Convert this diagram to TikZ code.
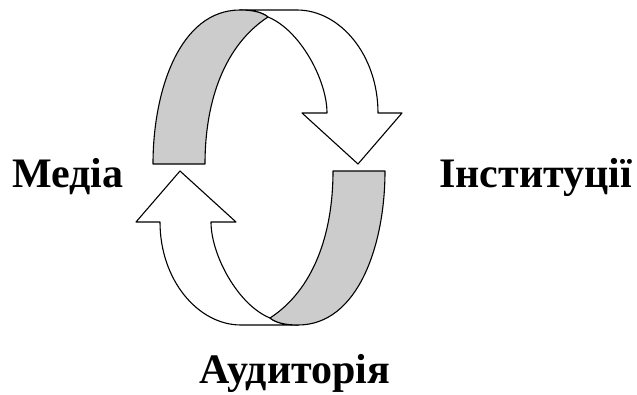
\documentclass[tikz,border=0pt]{standalone}
\usepackage{fontspec}
\setmainfont{Liberation Serif}
\definecolor{bandgray}{RGB}{204,204,204}
\tikzset{
  band/.style={draw=black, line width=1.1pt, line join=round},
  lbl/.style={font=\fontsize{42}{46}\selectfont\bfseries, anchor=base west, inner sep=0pt}
}
\begin{document}
\begin{tikzpicture}[x=1pt,y=-1pt]
\useasboundingbox (0,0) rectangle (637,394);
\foreach \ang in {0,180}{
\begin{scope}[rotate around={\ang:(269,167.5)}]
  \draw[band, fill=white] (240,10) -- (297,10)
      .. controls (340,10) and (378,55) .. (378,113)
      -- (402,113) -- (358,164) -- (302,113) -- (327,113)
      .. controls (327,80) and (300,30) .. (268,17)
      .. controls (262,12) and (252,10) .. (240,10) -- cycle;
  \draw[band, fill=bandgray] (153,164)
      .. controls (153,90) and (180,10) .. (240,10)
      .. controls (252,10) and (262,12) .. (268,17)
      .. controls (225,45) and (205,100) .. (205,164) -- cycle;
\end{scope}}
\node[lbl] (media) at (12,187) {Медіа};
\node[lbl] (inst) at (439,187) {Інституції};
\node[lbl] (aud) at (199,383) {Аудиторія};
\end{tikzpicture}
\end{document}
